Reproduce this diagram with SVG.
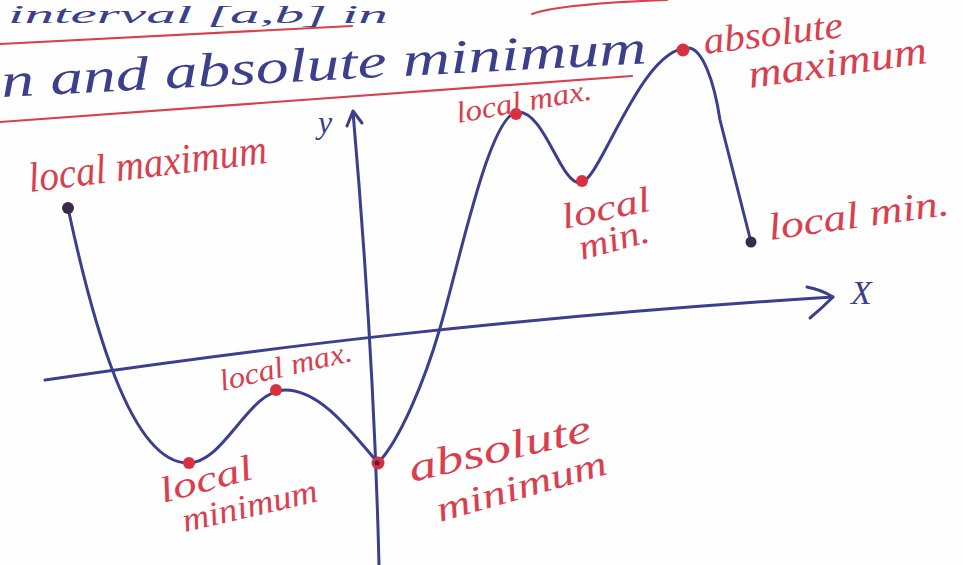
<svg xmlns="http://www.w3.org/2000/svg" width="963" height="565" viewBox="0 0 963 565">
<style>
.blue{fill:none;stroke:#3b3f8c;stroke-width:3;stroke-linecap:round;stroke-linejoin:round}
.redline{fill:none;stroke:#d8404e;stroke-width:2.2;stroke-linecap:round}
.bt{font-family:"Liberation Serif","DejaVu Serif",serif;font-style:italic;fill:#3b3f8c}
.rt{font-family:"Liberation Serif","DejaVu Serif",serif;font-style:italic;fill:#d8404e}
.rdot{fill:#d8303f}
.ddot{fill:#3a2b48}
</style>
<rect width="963" height="565" fill="#fefefe"/>

<g id="heading">
  <text class="bt" x="8" y="23" font-size="25" textLength="380" lengthAdjust="spacingAndGlyphs">interval [a,b] in</text>
  <path class="redline" d="M0,44 L352,26"/>
  <path class="redline" d="M532,14 Q560,4 667,0"/>
  <text class="bt" x="2" y="97" font-size="48" textLength="646" lengthAdjust="spacingAndGlyphs" transform="rotate(-3 2 97)">n and absolute minimum</text>
  <path class="redline" d="M0,122 L632,76"/>
</g>

<g id="axes">
  <path class="blue" d="M353,112 C365,250 375,400 379,565"/>
  <path class="blue" d="M347,126 L353,111 L362,123"/>
  <text class="bt" x="318" y="133" font-size="32">y</text>
  <path class="blue" d="M45,380 C250,350 500,318 833,297"/>
  <path class="blue" d="M807,287 Q822,290 833,297 Q822,308 810,318"/>
  <text class="bt" x="851" y="304" font-size="34">X</text>
</g>

<g id="curve">
  <path class="blue" d="M68,208 C92,320 130,463 188,463 C225,463 248,390 285,390 C320,390 350,430 378,463 C400,440 425,380 440,328 C460,260 490,112 518,112 C545,112 560,183 580,183 C600,183 640,48 688,48 C702,48 714,80 720,120 L751,242"/>
</g>

<g id="start-point">
  <circle class="ddot" cx="68" cy="208" r="6"/>
  <text class="rt" x="30" y="192" font-size="42" textLength="240" lengthAdjust="spacingAndGlyphs" transform="rotate(-7 30 192)">local maximum</text>
</g>
<g id="local-min-1">
  <circle class="rdot" cx="189" cy="463" r="6"/>
  <text class="rt" x="163" y="503" font-size="36" textLength="95" lengthAdjust="spacingAndGlyphs" transform="rotate(-15 163 503)">local</text>
  <text class="rt" x="185" y="532" font-size="34" textLength="138" lengthAdjust="spacingAndGlyphs" transform="rotate(-13 185 532)">minimum</text>
</g>
<g id="local-max-1">
  <circle class="rdot" cx="276" cy="390" r="6"/>
  <text class="rt" x="222" y="391" font-size="30" textLength="135" lengthAdjust="spacingAndGlyphs" transform="rotate(-13 222 391)">local max.</text>
</g>
<g id="abs-min">
  <circle class="rdot" cx="378" cy="463" r="6.5"/>
  <circle cx="377" cy="463" r="2.5" fill="#3a2b48"/>
  <text class="rt" x="412" y="482" font-size="40" textLength="186" lengthAdjust="spacingAndGlyphs" transform="rotate(-13 412 482)">absolute</text>
  <text class="rt" x="440" y="522" font-size="36" textLength="176" lengthAdjust="spacingAndGlyphs" transform="rotate(-16 440 522)">minimum</text>
</g>
<g id="local-max-2">
  <circle class="rdot" cx="516" cy="114" r="6"/>
  <text class="rt" x="458" y="123" font-size="30" textLength="137" lengthAdjust="spacingAndGlyphs" transform="rotate(-10 458 123)">local max.</text>
</g>
<g id="local-min-2">
  <circle class="rdot" cx="582" cy="181" r="6"/>
  <text class="rt" x="564" y="229" font-size="36" textLength="90" lengthAdjust="spacingAndGlyphs" transform="rotate(-12 564 229)">local</text>
  <text class="rt" x="582" y="260" font-size="36" textLength="72" lengthAdjust="spacingAndGlyphs" transform="rotate(-15 582 260)">min.</text>
</g>
<g id="abs-max">
  <circle class="rdot" cx="683" cy="50" r="6.5"/>
  <text class="rt" x="705" y="54" font-size="38" textLength="140" lengthAdjust="spacingAndGlyphs" transform="rotate(-7 705 54)">absolute</text>
  <text class="rt" x="750" y="88" font-size="40" textLength="180" lengthAdjust="spacingAndGlyphs" transform="rotate(-8 750 88)">maximum</text>
</g>
<g id="end-point">
  <circle class="ddot" cx="751" cy="242" r="5.5"/>
  <text class="rt" x="770" y="240" font-size="38" textLength="182" lengthAdjust="spacingAndGlyphs" transform="rotate(-8 770 240)">local min.</text>
</g>
</svg>
